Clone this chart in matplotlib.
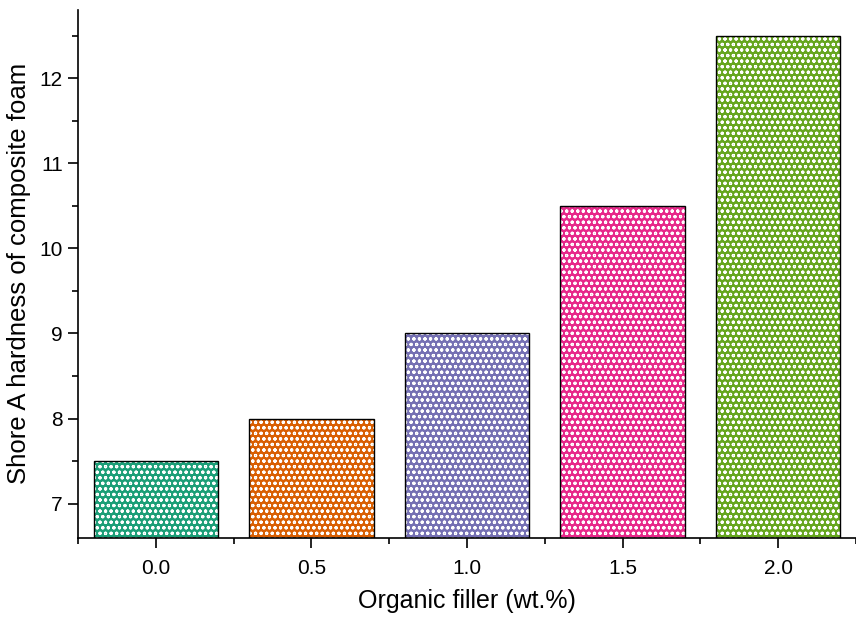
import matplotlib
matplotlib.use("Agg")
import matplotlib.pyplot as plt
from matplotlib.ticker import MultipleLocator

plt.rcParams['font.family'] = ['Liberation Sans', 'DejaVu Sans']
plt.rcParams['hatch.linewidth'] = 0.8

categories = [0.0, 0.5, 1.0, 1.5, 2.0]
tick_labels = ["0.0", "0.5", "1.0", "1.5", "2.0"]
hardness = [7.5, 8.0, 9.0, 10.5, 12.5]
colors = ["#1b9e77", "#d95f02", "#7570b3", "#e7298a", "#66a61e"]

fig = plt.figure(figsize=(8.56, 6.17), dpi=100)
ax = fig.add_axes([0.0911, 0.1285, 0.9089, 0.8553])

ax.bar(categories, hardness, width=0.4, color=colors, edgecolor="white",
       linewidth=0, hatch="ooo", zorder=2)
ax.bar(categories, hardness, width=0.4, fill=False, edgecolor="black",
       linewidth=1.0, zorder=3)

ax.set_xlim(-0.25, 2.25)
ax.set_ylim(6.6, 12.8)
ax.set_xticks(categories)
ax.set_xticklabels(tick_labels)
ax.xaxis.set_minor_locator(MultipleLocator(0.25))
ax.yaxis.set_major_locator(MultipleLocator(1))
ax.yaxis.set_minor_locator(MultipleLocator(0.5))

for s in ["top", "right"]:
    ax.spines[s].set_visible(False)
for s in ["left", "bottom"]:
    ax.spines[s].set_linewidth(1.2)

ax.tick_params(which="major", direction="out", length=7, width=1.2, labelsize=15)
ax.tick_params(which="minor", direction="out", length=4, width=1.2)
ax.tick_params(axis="x", which="major", pad=8)
ax.tick_params(axis="y", which="major", pad=4)

ax.set_xlabel("Organic filler (wt.%)", fontsize=18, labelpad=8)
ax.set_ylabel("Shore A hardness of composite foam", fontsize=18.5, labelpad=6)

fig.savefig("out.png", dpi=100)
